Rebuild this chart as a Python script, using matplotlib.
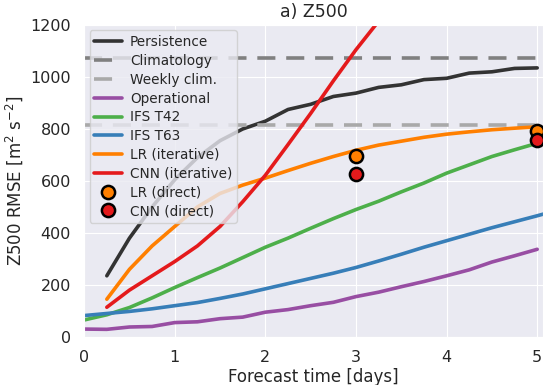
import numpy as np
import matplotlib
matplotlib.use('Agg')
from matplotlib import pyplot as plt
import seaborn as sns

# lead times [days]
t_ifs = [0, 0.25, 0.5, 0.75, 1, 1.25, 1.5, 1.75, 2, 2.25, 2.5, 2.75, 3,
         3.25, 3.5, 3.75, 4, 4.25, 4.5, 4.75, 5]
t_blue = t_ifs + [5.25]
t_it = t_ifs[1:]
t_red = [0.25, 0.5, 0.75, 1, 1.25, 1.5, 1.75, 2, 2.25, 2.5, 2.75, 3, 3.25, 3.5]
t_direct = [3, 5]

persistence = [235, 380, 500, 605, 690, 755, 800, 830, 875, 895, 925, 938,
               960, 970, 990, 995, 1015, 1020, 1033, 1035]
climatology = 1075
weekly_clim = 817
operational = [30, 29, 38, 40, 55, 58, 70, 76, 95, 105, 120, 133, 155,
               172, 193, 213, 235, 258, 288, 312, 337]
ifs_t42 = [65, 85, 113, 150, 190, 228, 265, 305, 345, 380, 418, 455, 490,
           522, 558, 592, 630, 662, 694, 720, 745]
ifs_t63 = [82, 90, 98, 108, 120, 132, 148, 165, 185, 205, 225, 245, 267,
           292, 318, 345, 370, 395, 420, 443, 466, 490]
lr_iter = [145, 260, 350, 425, 500, 552, 584, 611, 640, 668, 694, 718,
           738, 753, 768, 780, 789, 797, 803, 808]
cnn_iter = [114, 180, 235, 290, 350, 425, 520, 622, 740, 860, 985, 1105,
            1215, 1330]
lr_direct = [695, 791]
cnn_direct = [628, 759]

sns.set_style('darkgrid')

fig = plt.figure(figsize=(5.43, 3.85), dpi=100)
ax = fig.add_axes([0.155, 0.125, 0.845, 0.81])

lw = 2.6
ax.plot(t_it, persistence, color='#333333', lw=lw, label='Persistence')
ax.axhline(climatology, color='gray', lw=lw, ls=(0, (5, 3)), label='Climatology')
ax.axhline(weekly_clim, color='darkgray', lw=lw, ls=(0, (5, 3)), label='Weekly clim.')
ax.plot(t_ifs, operational, color='#984ea3', lw=lw, label='Operational')
ax.plot(t_ifs, ifs_t42, color='#4daf4a', lw=lw, label='IFS T42')
ax.plot(t_blue, ifs_t63, color='#377eb8', lw=lw, label='IFS T63')
ax.plot(t_it, lr_iter, color='#ff7f00', lw=lw, label='LR (iterative)')
ax.plot(t_red, cnn_iter, color='#e41a1c', lw=lw, label='CNN (iterative)')
ax.plot(t_direct, lr_direct, 'o', color='#ff7f00', ms=9.5, mec='k', mew=1.8,
        label='LR (direct)', clip_on=False, zorder=5)
ax.plot(t_direct, cnn_direct, 'o', color='#e41a1c', ms=9.5, mec='k', mew=1.8,
        label='CNN (direct)', clip_on=False, zorder=5)

ax.set_xlim(0, 5.064)
ax.set_ylim(0, 1200)
ax.set_xticks([0, 1, 2, 3, 4, 5])
ax.set_yticks([0, 200, 400, 600, 800, 1000, 1200])
ax.tick_params(labelsize=11.5, pad=6)
ax.set_xlabel('Forecast time [days]', fontsize=12, labelpad=2)
ax.set_ylabel('Z500 RMSE [m$^2$ s$^{-2}$]', fontsize=12, labelpad=4)
ax.set_title('a) Z500', fontsize=12.5, pad=6)

ax.legend(loc='upper left', fontsize=9.8, handlelength=2.0, borderaxespad=0.4,
          labelspacing=0.35, borderpad=0.35, handletextpad=0.6)

fig.savefig('out.png', dpi=100)
